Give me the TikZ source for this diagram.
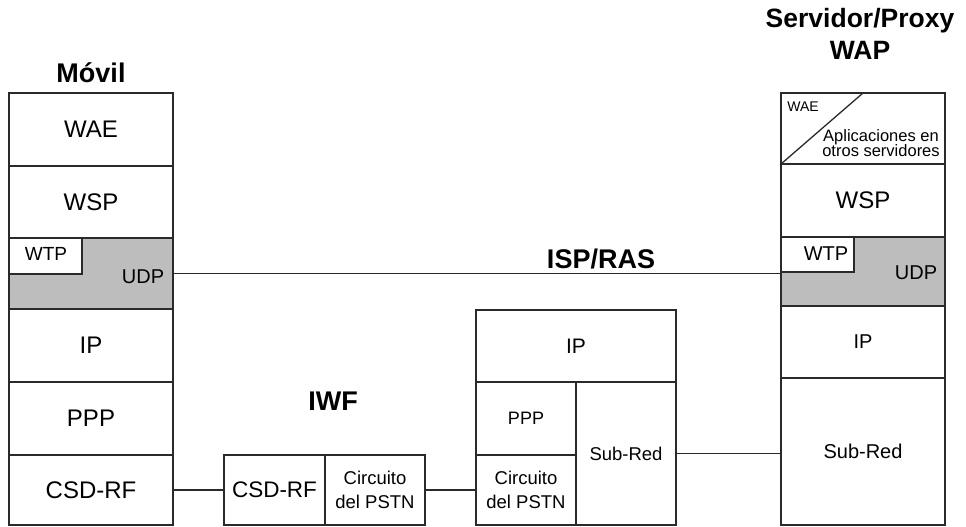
\documentclass[tikz,border=0pt]{standalone}
\usepackage{fontspec}
\setmainfont{Liberation Sans}
\definecolor{linec}{HTML}{2A2A2A}
\definecolor{udpfill}{HTML}{BDBDBD}
\newcommand{\fsz}[1]{\fontsize{#1}{#1}\selectfont}
\begin{document}
\begin{tikzpicture}[x=1pt,y=-1pt,
  layer/.style={draw=linec,line width=1.3pt,rectangle,inner sep=0pt,outer sep=0pt,anchor=north west,align=center},
  lbl/.style={inner sep=0pt,align=center},
  ttl/.style={inner sep=0pt,align=center,font=\fontsize{27}{32}\selectfont\bfseries},
  conn/.style={draw=linec,line width=1.3pt}]
\useasboundingbox (0,0) rectangle (966,527);

% ---- Movil stack ----
\node[layer,minimum width=164pt,minimum height=73pt,font=\fsz{24}] (mwae) at (9,93) {WAE};
\node[layer,minimum width=164pt,minimum height=72pt,font=\fsz{24}] (mwsp) at (9,166) {WSP};
\node[layer,fill=udpfill,minimum width=164pt,minimum height=71pt] (mudp) at (9,238) {};
\node[layer,fill=white,minimum width=73pt,minimum height=36pt] (mwtp) at (9,238) {};
\node[lbl,font=\fsz{19}] (mwtpt) at (46,254) {WTP};
\node[lbl,font=\fsz{20}] (mudpt) at (143,277) {UDP};
\node[layer,minimum width=164pt,minimum height=73pt,font=\fsz{24}] (mip) at (9,309) {IP};
\node[layer,minimum width=164pt,minimum height=73pt,font=\fsz{24}] (mppp) at (9,382) {PPP};
\node[layer,minimum width=164pt,minimum height=70pt,font=\fsz{24}] (mcsd) at (9,455) {CSD-RF};
\node[ttl] (tmovil) at (91,73) {Móvil};

% ---- Servidor stack ----
\node[layer,minimum width=164pt,minimum height=71pt] (swae) at (781,93) {};
\coordinate (sdiag) at (863,93);
\draw[conn] (swae.south west) -- (sdiag);
\node[lbl,font=\fsz{14}] (swaet) at (803,107) {WAE};
\node[lbl,font=\fontsize{16.5}{15.5}\selectfont] (sapp) at (881,143) {Aplicaciones en\\otros servidores};
\node[layer,minimum width=164pt,minimum height=73pt,font=\fsz{24}] (swsp) at (781,164) {WSP};
\node[layer,fill=udpfill,minimum width=164pt,minimum height=69pt] (sudp) at (781,237) {};
\node[layer,fill=white,minimum width=73pt,minimum height=35pt] (swtp) at (781,237) {};
\node[lbl,font=\fsz{20}] (swtpt) at (826,254) {WTP};
\node[lbl,font=\fsz{20}] (sudpt) at (916,273) {UDP};
\node[layer,minimum width=164pt,minimum height=72pt,font=\fsz{20}] (sip) at (781,306) {IP};
\node[layer,minimum width=164pt,minimum height=147pt,font=\fsz{20}] (ssub) at (781,378) {Sub-Red};
\node[ttl,font=\fontsize{26.5}{32}\selectfont\bfseries] (tserv) at (860,34) {Servidor/Proxy\\WAP};

% ---- ISP/RAS box ----
\node[layer,minimum width=200pt,minimum height=72pt,font=\fsz{21}] (pip) at (476,310) {IP};
\node[layer,minimum width=100pt,minimum height=73pt,font=\fsz{18}] (pppp) at (476,382) {PPP};
\node[layer,minimum width=100pt,minimum height=70pt,font=\fontsize{18.5}{24}\selectfont] (pcirc) at (476,455) {Circuito\\del PSTN};
\node[layer,minimum width=100pt,minimum height=143pt,font=\fsz{18.5}] (psub) at (576,382) {Sub-Red};
\node[ttl] (tisp) at (601,259) {ISP/RAS};

% ---- IWF box ----
\node[layer,minimum width=101pt,minimum height=70pt,font=\fsz{22.5}] (icsd) at (224,455) {CSD-RF};
\node[layer,minimum width=100pt,minimum height=70pt,font=\fontsize{18.5}{24}\selectfont] (icirc) at (325,455) {Circuito\\del PSTN};
\node[ttl] (tiwf) at (333,401) {IWF};

% ---- connectors ----
\draw[conn] (mudp.east) -- (mudp.east -| sudp.west);
\draw[conn] (mcsd.east) -- (icsd.west);
\draw[conn] (icirc.east) -- (pcirc.west);
\draw[conn] (psub.east) -- (psub.east -| ssub.west);
\end{tikzpicture}
\end{document}
